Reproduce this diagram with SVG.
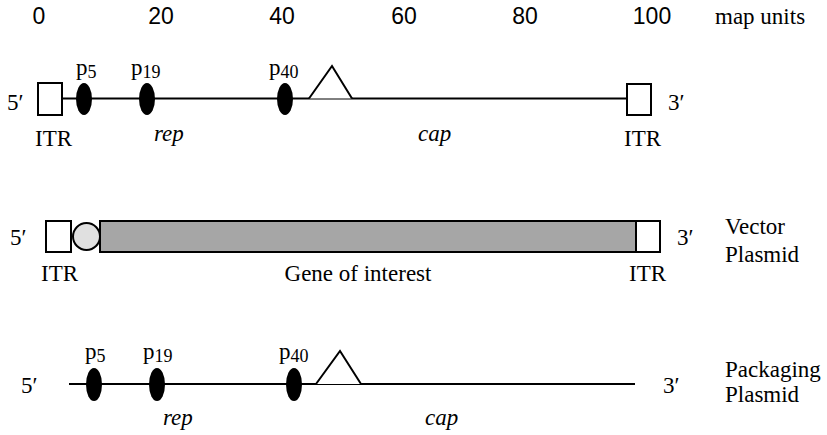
<svg xmlns="http://www.w3.org/2000/svg" width="827" height="435" viewBox="0 0 827 435">
<style>
.ser{font-family:"Liberation Serif","Times New Roman","DejaVu Serif",serif;font-size:23px;fill:#000}
.san{font-family:"Liberation Sans",Arial,sans-serif;font-size:23px;fill:#000}
.it{font-style:italic}
.sub{font-size:18px}
.ln{stroke:#000;stroke-width:2;fill:none}
.box{stroke:#000;stroke-width:2;fill:#fff}
.prom{fill:#000;stroke:none}
.tri{stroke:#000;stroke-width:2;fill:#fff}
</style>
<rect width="827" height="435" fill="#fff"/>
<g id="scale">
<text class="san" x="39" y="24" text-anchor="middle">0</text>
<text class="san" x="161" y="24" text-anchor="middle">20</text>
<text class="san" x="282" y="24" text-anchor="middle">40</text>
<text class="san" x="404" y="24" text-anchor="middle">60</text>
<text class="san" x="525" y="24" text-anchor="middle">80</text>
<text class="san" x="652" y="24" text-anchor="middle">100</text>
<text class="ser" x="715" y="24">map units</text>
</g>
<g id="connectors">
<line class="ln" x1="62" y1="98.5" x2="627" y2="98.5"/>
<line class="ln" x1="69" y1="384" x2="635" y2="384"/>
</g>
<g id="wildtype">
<text class="ser" x="7" y="110">5′</text>
<rect class="box" x="38" y="83" width="24" height="32"/>
<ellipse class="prom" cx="84" cy="99" rx="8" ry="16"/>
<ellipse class="prom" cx="147" cy="99" rx="8" ry="16"/>
<ellipse class="prom" cx="285" cy="99" rx="8" ry="16"/>
<polyline class="tri" points="309,98.5 332,66 352,98.5"/>
<rect class="box" x="627" y="84" width="24" height="31"/>
<text class="ser" x="668" y="110">3′</text>
<text class="ser" x="76" y="75">p<tspan class="sub" dy="3">5</tspan></text>
<text class="ser" x="131" y="75">p<tspan class="sub" dy="3">19</tspan></text>
<text class="ser" x="269" y="75">p<tspan class="sub" dy="3">40</tspan></text>
<text class="ser" x="35" y="146">ITR</text>
<text class="ser it" x="154" y="141">rep</text>
<text class="ser it" x="418" y="141">cap</text>
<text class="ser" x="624" y="146">ITR</text>
</g>
<g id="vector">
<text class="ser" x="10" y="245">5′</text>
<rect class="box" x="46" y="221" width="25" height="31"/>
<rect x="100" y="221" width="536" height="31" fill="#a6a6a6" stroke="#000" stroke-width="2"/>
<circle cx="86.5" cy="236.5" r="13.5" fill="#e0e0e0" stroke="#000" stroke-width="2"/>
<rect class="box" x="636" y="221" width="24" height="31"/>
<text class="ser" x="677" y="245">3′</text>
<text class="ser" x="41" y="281">ITR</text>
<text class="ser" x="358" y="281" text-anchor="middle">Gene of interest</text>
<text class="ser" x="629" y="281">ITR</text>
<text class="ser" x="725" y="234">Vector</text>
<text class="ser" x="725" y="262">Plasmid</text>
</g>
<g id="packaging">
<text class="ser" x="21" y="393">5′</text>
<ellipse class="prom" cx="94" cy="384.5" rx="8" ry="16.5"/>
<ellipse class="prom" cx="157" cy="384.5" rx="8" ry="16.5"/>
<ellipse class="prom" cx="294" cy="384.5" rx="8" ry="16.5"/>
<polyline class="tri" points="316,384 340,351 361,384"/>
<text class="ser" x="663" y="393">3′</text>
<text class="ser" x="85" y="359">p<tspan class="sub" dy="3">5</tspan></text>
<text class="ser" x="143" y="359">p<tspan class="sub" dy="3">19</tspan></text>
<text class="ser" x="279" y="359">p<tspan class="sub" dy="3">40</tspan></text>
<text class="ser it" x="163" y="425">rep</text>
<text class="ser it" x="425" y="425">cap</text>
<text class="ser" x="725" y="377">Packaging</text>
<text class="ser" x="725" y="402">Plasmid</text>
</g>
</svg>
